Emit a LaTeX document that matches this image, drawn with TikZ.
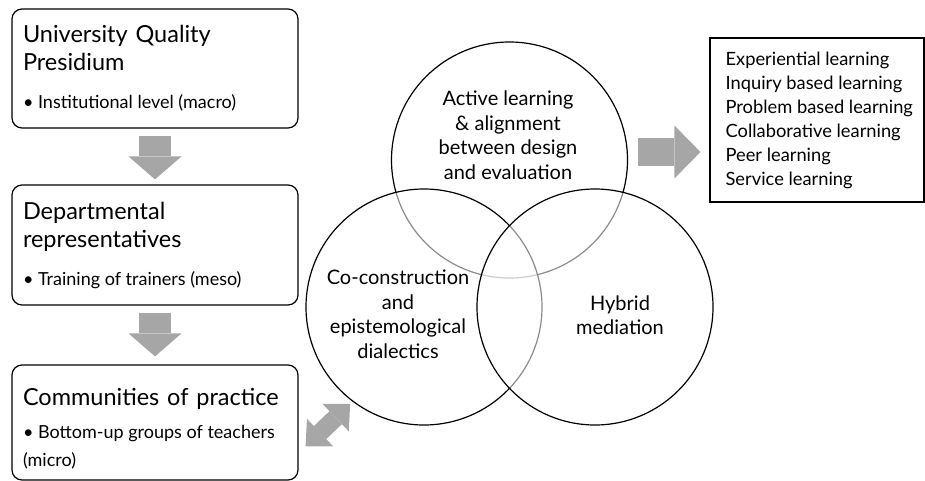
\documentclass[tikz,border=0pt]{standalone}
\usepackage{fontspec}
\setmainfont{Lato}
\usetikzlibrary{arrows.meta, positioning, calc}

\newcommand{\titlefont}{\fontsize{23.5}{28}\selectfont}
\newcommand{\itemfont}{\fontsize{18}{24}\selectfont\spaceskip=0pt\xspaceskip=0pt\relax}
\newcommand{\circfont}{\fontsize{20}{24.5}\selectfont}
\newcommand{\listfont}{\fontsize{18.3}{24}\selectfont}

\begin{document}
\begin{tikzpicture}[
  x=1pt, y=1pt,
  level/.style={draw, line width=1.2pt, rounded corners=10pt, minimum width=286pt, text width=264pt, inner xsep=11pt, align=left, font=\titlefont},
  venn/.style={circle, draw, line width=1.2pt, minimum size=236pt, fill=white, fill opacity=0.55},
  vtext/.style={align=center, font=\circfont},
  dnarrow/.style={draw=black!35, line width=32pt, -{Triangle[length=23pt 0 0, width=53pt 0 0, line width=0pt 0 0]}},
  rtarrow/.style={draw=black!35, line width=28pt, -{Triangle[length=26pt 0 0, width=53pt 0 0, line width=0pt 0 0]}},
  dbarrow/.style={draw=black!35, line width=18pt, {Triangle[length=20pt 0 0, width=38pt 0 0, line width=0pt 0 0]}-{Triangle[length=20pt 0 0, width=38pt 0 0, line width=0pt 0 0]}}
  ]
  \useasboundingbox (0,0) rectangle (925,-481);

  % three levels
  \node[level, minimum height=119pt] (uqp) at (155,-68.5)
    {University Quality\\Presidium\\[10pt]\itemfont\textbullet\ Institutional level (macro)};
  \node[level, minimum height=120pt] (dep) at (155,-245)
    {Departmental\\representatives\\[10pt]\itemfont\textbullet\ Training of trainers (meso)};
  \node[level, minimum height=115pt] (com) at (155,-422.5)
    {\rule{0pt}{30pt}Communities of practice\\[9pt]\itemfont\textbullet\ Bottom-up groups of teachers\\(micro)};
  \draw[dnarrow, shorten <=7pt, shorten >=5pt] (uqp.south) -- (dep.north);
  \draw[dnarrow, shorten <=7pt, shorten >=8pt] (dep.south) -- (com.north);

  % venn
  \node[venn] (act) at (509.5,-160) {};
  \node[venn] (coc) at (424,-307) {};
  \node[venn] (hyb) at (595,-307) {};
  \node[vtext] (actT) at ($(act)+(-1.5,25)$) {Active learning\\\& alignment\\between design\\and evaluation};
  \node[vtext] (cocT) at ($(coc)+(-26,-7)$) {Co-construction\\and\\epistemological\\dialectics};
  \node[vtext] (hybT) at ($(hyb)+(25,-8)$) {Hybrid\\mediation};

  % methods
  \node[draw, line width=1.2pt, minimum width=214pt, minimum height=164pt] (lst) at (817,-120) {};
  \node[anchor=west, inner sep=0pt, align=left, font=\listfont] (lstT) at ($(lst.west)+(16,0)$)
    {Experiential learning\\Inquiry based learning\\Problem based learning\\Collaborative learning\\Peer learning\\Service learning};
  \draw[rtarrow] ($(act.east)+(9.5,8)$) -- ($(lst.west)+(-9,-32)$);
  \draw[dbarrow] ($(com.north east)+(7,-82)$) -- ($(coc.225)+(10,-13)$);
\end{tikzpicture}
\end{document}
